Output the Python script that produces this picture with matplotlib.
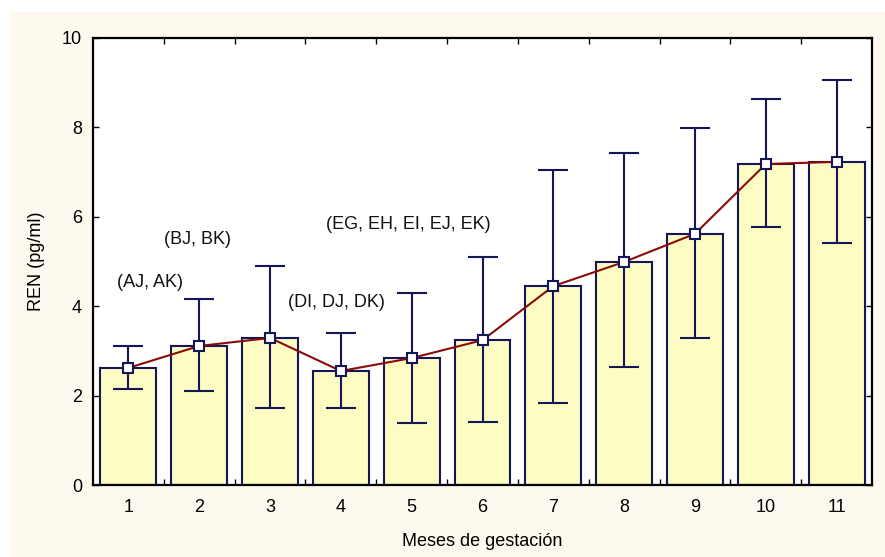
import numpy as np
import matplotlib
matplotlib.use('Agg')
import matplotlib.pyplot as plt
from matplotlib.patches import Rectangle
from matplotlib.ticker import FixedLocator, NullFormatter

plt.rcParams['font.family'] = ['Liberation Sans', 'DejaVu Sans']

# REN by month of gestation: mean with lower / upper limits
meses = [1, 2, 3, 4, 5, 6, 7, 8, 9, 10, 11]
media = [2.62, 3.11, 3.29, 2.55, 2.84, 3.24, 4.45, 4.99, 5.62, 7.18, 7.23]
sup = [3.11, 4.16, 4.90, 3.40, 4.30, 5.10, 7.05, 7.43, 7.99, 8.64, 9.06]
inf = [2.15, 2.10, 1.72, 1.72, 1.39, 1.41, 1.83, 2.64, 3.29, 5.77, 5.41]

etiquetas = ['(AJ, AK)', '(BJ, BK)', '(DI, DJ, DK)', '(EG, EH, EI, EJ, EK)']
etq_x = [1.31, 1.97, 3.94, 4.95]
etq_y = [4.54, 5.50, 4.09, 5.82]

navy = '#15155a'
fs = 13
fig = plt.figure(figsize=(8.85, 5.57), dpi=100)
fig.patch.set_facecolor('white')
fig.patches.append(Rectangle((10/885, 0), 1, 1 - 12/557, transform=fig.transFigure,
                             facecolor='#fef9ef', edgecolor='none', zorder=-10))

ax = fig.add_axes([93/885, 72/557, 779/885, 447/557])
ax.set_facecolor('white')

x = np.array(meses)
m = np.array(media)
err = [m - np.array(inf), np.array(sup) - m]
ax.bar(x, m, width=0.79, color='#fdfcc2', edgecolor=navy, linewidth=1.5, zorder=2)
ax.errorbar(x, m, yerr=err, fmt='none', ecolor=navy, elinewidth=1.5,
            capsize=10.5, capthick=1.5, zorder=3)
ax.plot(x, m, color='#8b0a0a', linewidth=1.5, marker='s', markersize=7.5,
        markerfacecolor='white', markeredgecolor=navy, markeredgewidth=1.5, zorder=4)

for t, tx, ty in zip(etiquetas, etq_x, etq_y):
    ax.text(tx, ty, t, ha='center', va='center', fontsize=fs, color='#111111')

ax.set_xlim(0.5, 11.5)
ax.set_ylim(0, 10)
ax.set_xticks(meses)
ax.set_xticklabels([str(v) for v in meses])
ax.xaxis.set_minor_locator(FixedLocator(np.arange(1.5, 11.5, 1)))
ax.xaxis.set_minor_formatter(NullFormatter())
ax.set_yticks(range(0, 11, 2))
ax.tick_params(axis='x', which='major', length=0, pad=10, labelsize=fs)
ax.tick_params(axis='x', which='minor', direction='in', length=4, width=1,
               top=True, bottom=True)
ax.tick_params(axis='y', direction='in', length=4, width=1, right=True,
               pad=8, labelsize=fs)
for s in ax.spines.values():
    s.set_linewidth(1.6)
    s.set_color('black')

ax.set_xlabel('Meses de gestación', fontsize=fs, labelpad=12)
ax.set_ylabel('REN (pg/ml)', fontsize=fs, labelpad=12)

fig.savefig('out.png', dpi=100)
